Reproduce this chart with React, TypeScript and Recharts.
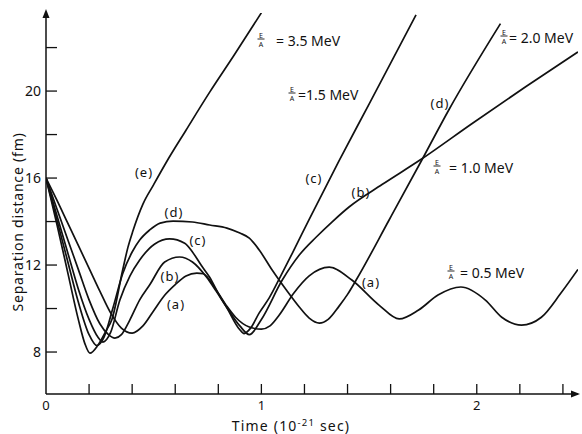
import React from 'react';
import { LineChart, Line, XAxis, YAxis } from 'recharts';

// time in 10^-21 s, separation in fm
const timeA = [0, 0.05, 0.1, 0.15, 0.204, 0.25, 0.3, 0.35, 0.4, 0.45, 0.5, 0.55, 0.6, 0.65, 0.7, 0.73, 0.79, 0.84, 0.88, 0.944, 1.0, 1.04, 1.083, 1.15, 1.222, 1.315, 1.42, 1.546, 1.64, 1.73, 1.82, 1.926, 2.04, 2.116, 2.208, 2.3, 2.39, 2.47];
const sepA = [16, 15.0, 13.95, 12.9, 11.77, 10.8, 9.8, 9.1, 8.87, 9.2, 9.9, 10.6, 11.1, 11.5, 11.63, 11.6, 10.85, 10.1, 9.6, 9.15, 9.05, 9.2, 9.7, 10.7, 11.5, 11.9, 11.31, 10.16, 9.52, 9.93, 10.62, 10.99, 10.39, 9.6, 9.24, 9.6, 10.7, 11.8];

const timeB = [0, 0.05, 0.1, 0.15, 0.2, 0.25, 0.29, 0.32, 0.35, 0.389, 0.435, 0.481, 0.551, 0.62, 0.68, 0.745, 0.79, 0.838, 0.9, 0.944, 1.0, 1.097, 1.176, 1.255, 1.33, 1.407, 1.56, 1.74, 1.977, 2.227, 2.47];
const sepB = [16, 14.6, 13.2, 11.8, 10.4, 9.3, 8.8, 8.64, 8.8, 9.47, 10.4, 11.08, 12.14, 12.37, 12.14, 11.45, 10.8, 10.07, 9.2, 8.8, 9.5, 11.31, 12.46, 13.29, 14.0, 14.67, 15.7, 16.85, 18.5, 20.2, 21.8];

const timeC = [0, 0.05, 0.1, 0.15, 0.2, 0.24, 0.264, 0.3, 0.343, 0.39, 0.435, 0.505, 0.574, 0.644, 0.68, 0.72, 0.759, 0.8, 0.838, 0.898, 0.92, 0.95, 0.99, 1.037, 1.09, 1.144, 1.222, 1.361, 1.5, 1.718];
const sepC = [16, 14.3, 12.6, 10.9, 9.5, 8.7, 8.46, 8.9, 10.39, 11.5, 12.23, 12.97, 13.2, 13.0, 12.6, 12.0, 11.45, 10.7, 10.07, 9.05, 8.85, 9.1, 9.8, 10.5, 11.5, 12.55, 14.1, 16.8, 19.4, 23.5];

const timeD = [0, 0.05, 0.1, 0.15, 0.2, 0.236, 0.27, 0.31, 0.356, 0.4, 0.435, 0.48, 0.53, 0.59, 0.68, 0.76, 0.84, 0.9, 0.944, 0.99, 1.05, 1.116, 1.176, 1.222, 1.269, 1.31, 1.36, 1.4, 1.44, 1.593, 1.745, 1.87, 2.11];
const sepD = [16, 14.1, 12.2, 10.3, 8.8, 8.3, 8.7, 10.0, 11.6, 12.6, 13.15, 13.6, 13.93, 14.02, 13.98, 13.84, 13.7, 13.47, 13.24, 12.69, 11.77, 10.85, 10.07, 9.56, 9.33, 9.5, 10.1, 10.65, 11.31, 14.07, 16.83, 19.13, 23.1];

const timeE = [0, 0.05, 0.1, 0.15, 0.18, 0.204, 0.24, 0.28, 0.306, 0.356, 0.38, 0.403, 0.45, 0.5, 0.56, 0.65, 0.76, 0.87, 1.0];
const sepE = [16, 13.9, 11.7, 9.5, 8.4, 7.95, 8.3, 9.0, 9.5, 11.77, 12.8, 13.55, 14.8, 15.7, 16.75, 18.2, 19.95, 21.6, 23.6];

const timeTicks = [0, 0.2, 0.4, 0.6, 0.8, 1, 1.2, 1.4, 1.6, 1.8, 2, 2.2, 2.4];
const timeLabels = [0, 1, 2];
const sepTicks = [8, 10, 12, 14, 16, 18, 20, 22];
const sepLabels = [8, 12, 16, 20];

const toPoints = (ts: number[], vs: number[]) => ts.map((t, i) => ({ t, v: vs[i] }));

const series = [
  { name: 'a', data: toPoints(timeA, sepA) },
  { name: 'b', data: toPoints(timeB, sepB) },
  { name: 'c', data: toPoints(timeC, sepC) },
  { name: 'd', data: toPoints(timeD, sepD) },
  { name: 'e', data: toPoints(timeE, sepE) },
];

const INK = '#111';
const FONT = '"Noto Sans", "DejaVu Sans", sans-serif';

const XTick = (props: any) => {
  const { x, y, payload } = props;
  const val = payload.value;
  const showLabel = timeLabels.some((l) => Math.abs(l - val) < 1e-6);
  return (
    <g>
      {val > 0 && <line x1={x} y1={y} x2={x} y2={y - 10} stroke={INK} strokeWidth={1.3} />}
      {showLabel && (
        <text x={x} y={y + 16} textAnchor="middle" fontSize={13} fill={INK} fontFamily={FONT}>
          {val}
        </text>
      )}
    </g>
  );
};

const YTick = (props: any) => {
  const { x, y, payload } = props;
  const val = payload.value;
  return (
    <g>
      <line x1={x} y1={y} x2={x + 11} y2={y} stroke={INK} strokeWidth={1.3} />
      {sepLabels.includes(val) && (
        <text x={x - 5} y={y + 5} textAnchor="end" fontSize={14} fill={INK} fontFamily={FONT}>
          {val}
        </text>
      )}
    </g>
  );
};

// E/A fraction + value text; fx = fraction center, tx = text start, by = baseline
const energyNotes = [
  { fx: 261, tx: 276, by: 46, text: '= 3.5 MeV' },
  { fx: 292, tx: 298, by: 100, text: '=1.5 MeV' },
  { fx: 504, tx: 509, by: 43, text: '= 2.0 MeV' },
  { fx: 437, tx: 449, by: 173, text: '= 1.0 MeV' },
  { fx: 451, tx: 460, by: 278, text: '= 0.5 MeV' },
];

const curveNotes = [
  { x: 144, y: 177, text: '(e)' },
  { x: 174, y: 217, text: '(d)' },
  { x: 198, y: 245, text: '(c)' },
  { x: 170, y: 281, text: '(b)' },
  { x: 176, y: 309, text: '(a)' },
  { x: 314, y: 183, text: '(c)' },
  { x: 361, y: 197, text: '(b)' },
  { x: 371, y: 287, text: '(a)' },
  { x: 440, y: 108, text: '(d)' },
];

const Overlay = () => (
  <svg width={582} height={434} style={{ position: 'absolute', left: 0, top: 0, pointerEvents: 'none' }}>
    <g fill={INK} fontFamily={FONT}>
      <polygon points="46,9 42.5,18 49.5,18" />
      <polygon points="580,394 571,390.5 571,397.5" />
      {energyNotes.map((n, i) => (
        <g key={i}>
          <text x={n.fx} y={n.by - 8.5} fontSize={7} textAnchor="middle">E</text>
          <line x1={n.fx - 3.5} x2={n.fx + 3.5} y1={n.by - 7} y2={n.by - 7} stroke={INK} strokeWidth={0.9} />
          <text x={n.fx} y={n.by + 1} fontSize={7} textAnchor="middle">A</text>
          <text x={n.tx} y={n.by} fontSize={14}>{n.text}</text>
        </g>
      ))}
      {curveNotes.map((n, i) => (
        <text key={i} x={n.x} y={n.y} fontSize={13} textAnchor="middle" letterSpacing={1}>
          {n.text}
        </text>
      ))}
      <text x={23} y={222} fontSize={14} textAnchor="middle" letterSpacing={0.8} transform="rotate(-90 23 222)">
        Separation distance (fm)
      </text>
      <text x={291} y={431} fontSize={14} textAnchor="middle" letterSpacing={1.2}>
        Time (10<tspan dy={-5} fontSize={9.5}>-21</tspan>
        <tspan dy={5}> sec)</tspan>
      </text>
    </g>
  </svg>
);

export default function App() {
  return (
    <div style={{ position: 'absolute', left: 0, top: 0, width: 582, height: 434, background: '#fff' }}>
      <LineChart width={582} height={434} margin={{ top: 13, right: 4, left: 0, bottom: 0 }}>
        <XAxis
          dataKey="t"
          type="number"
          domain={[0, 2.47]}
          ticks={timeTicks}
          interval={0}
          height={40}
          tickSize={0}
          tickMargin={0}
          tickLine={false}
          tick={<XTick />}
          axisLine={{ stroke: INK, strokeWidth: 1.5 }}
          allowDataOverflow
        />
        <YAxis
          dataKey="v"
          type="number"
          domain={[6.07, 23.59]}
          ticks={sepTicks}
          interval={0}
          width={46}
          tickSize={0}
          tickMargin={0}
          tickLine={false}
          tick={<YTick />}
          axisLine={{ stroke: INK, strokeWidth: 1.5 }}
          allowDataOverflow
        />
        {series.map((s) => (
          <Line
            key={s.name}
            data={s.data}
            dataKey="v"
            type="monotone"
            stroke={INK}
            strokeWidth={1.7}
            dot={false}
            isAnimationActive={false}
          />
        ))}
      </LineChart>
      <Overlay />
    </div>
  );
}
